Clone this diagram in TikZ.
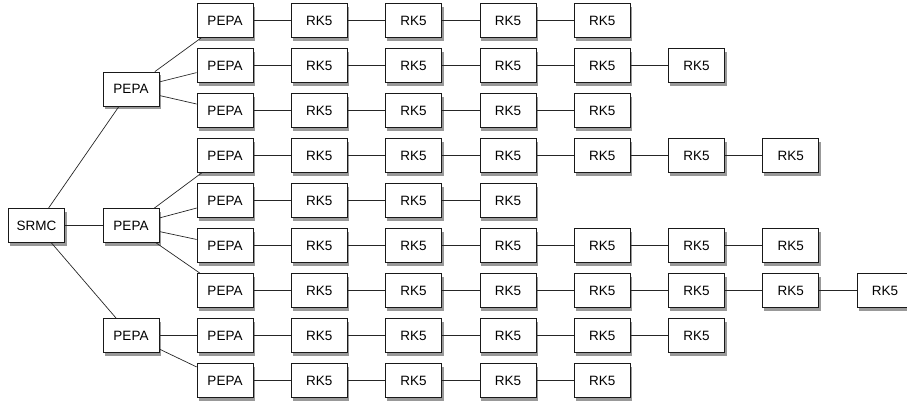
\documentclass[tikz,border=0pt]{standalone}
\usepackage{fontspec}
\setmainfont{Liberation Sans}
\tikzset{
  box/.style={draw=black!90,fill=white,line width=.8pt,minimum width=56pt,minimum height=34pt,inner sep=0pt},
  shadowbox/.style={fill=black!40},
  link/.style={draw=black!85,line width=.7pt}
}
\begin{document}
\begin{tikzpicture}[x=1pt,y=-1pt,font=\fontsize{13.5}{15}\selectfont]
  \useasboundingbox (0,0) rectangle (907,405);
  % shadows first, boxes on top
  \foreach \x/\y in {36.5/225.5,131/89,131/225.5,131/335.5}
    \fill[shadowbox] (\x-26.5,\y-14) rectangle (\x+30,\y+20);
  \foreach \r/\n in {1/4,2/5,3/4,4/6,5/3,6/6,7/7,8/5,9/4}
    \foreach \k in {0,...,\n}
      \fill[shadowbox] ({225+94.3*\k-26.5},{20.5+45*(\r-1)-14}) rectangle ({225+94.3*\k+30},{20.5+45*(\r-1)+20});
  % root and first level
  \node[box] (srmc) at (36.5,225.5) {SRMC};
  \node[box] (pepaA) at (131,89) {PEPA};
  \node[box] (pepaB) at (131,225.5) {PEPA};
  \node[box] (pepaC) at (131,335.5) {PEPA};
  % rows: row/number of RK5 steps
  \foreach \r/\n in {1/4,2/5,3/4,4/6,5/3,6/6,7/7,8/5,9/4}{
    \node[box,alias=r\r-0] (p\r) at (225,{20.5+45*(\r-1)}) {PEPA};
    \foreach \k [remember=\k as \j (initially 0)] in {1,...,\n}{
      \node[box] (r\r-\k) at ({225+94.3*\k},{20.5+45*(\r-1)}) {RK5};
      \path[link] (r\r-\j) -- (r\r-\k);}
  }
  \foreach \t in {pepaA,pepaB,pepaC} \path[link] (srmc) -- (\t);
  \foreach \t in {1,2,3} \path[link] (pepaA) -- (p\t);
  \foreach \t in {4,5,6,7} \path[link] (pepaB) -- (p\t);
  \foreach \t in {8,9} \path[link] (pepaC) -- (p\t);
\end{tikzpicture}
\end{document}
